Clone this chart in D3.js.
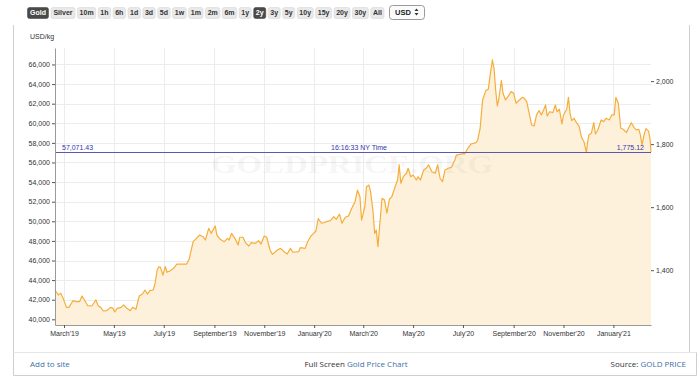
<!DOCTYPE html>
<html>
<head>
<meta charset="utf-8">
<script src="https://cdn.jsdelivr.net/npm/d3@7"></script>
<style>
body { margin: 0; background: #fff; }
svg { display: block; font-family: "Liberation Sans", Arial, sans-serif; }
</style>
</head>
<body>
<div id="chart-area"></div>
<script>
// gold price, 2 years, USD per kg (right axis shows USD per oz)
const KG_PER_OZ = 32.1507;

const dates = [
  "2019-02-18","2019-02-22","2019-02-25","2019-02-28","2019-03-04","2019-03-07","2019-03-12","2019-03-16",
  "2019-03-20","2019-03-23","2019-03-26","2019-03-30","2019-04-04","2019-04-09","2019-04-12","2019-04-15",
  "2019-04-18","2019-04-22","2019-04-27","2019-04-30","2019-05-02","2019-05-05","2019-05-10","2019-05-13",
  "2019-05-17","2019-05-21","2019-05-24","2019-05-28","2019-06-01","2019-06-05","2019-06-08","2019-06-11",
  "2019-06-14","2019-06-18","2019-06-20","2019-06-23","2019-06-25","2019-06-27","2019-06-30","2019-07-03",
  "2019-07-05","2019-07-09","2019-07-13","2019-07-17","2019-07-23","2019-07-29","2019-08-01","2019-08-06",
  "2019-08-10","2019-08-14","2019-08-18","2019-08-21","2019-08-25","2019-08-28","2019-09-02","2019-09-04",
  "2019-09-08","2019-09-13","2019-09-17","2019-09-19","2019-09-22","2019-09-26","2019-09-30","2019-10-02",
  "2019-10-06","2019-10-09","2019-10-13","2019-10-16","2019-10-21","2019-10-25","2019-10-28","2019-11-01",
  "2019-11-04","2019-11-08","2019-11-11","2019-11-17","2019-11-21","2019-11-26","2019-11-29","2019-12-03",
  "2019-12-06","2019-12-13","2019-12-15","2019-12-21","2019-12-24","2019-12-28","2019-12-31","2020-01-03",
  "2020-01-06","2020-01-10","2020-01-14","2020-01-16","2020-01-21","2020-01-25","2020-01-28","2020-02-01",
  "2020-02-04","2020-02-08","2020-02-12","2020-02-16","2020-02-20","2020-02-23","2020-02-26","2020-02-28",
  "2020-03-03","2020-03-05","2020-03-08","2020-03-10","2020-03-13","2020-03-15","2020-03-17","2020-03-19",
  "2020-03-21","2020-03-24","2020-03-27","2020-03-30","2020-04-02","2020-04-05","2020-04-09","2020-04-12",
  "2020-04-14","2020-04-16","2020-04-19","2020-04-23","2020-04-25","2020-04-28","2020-05-01","2020-05-05",
  "2020-05-07","2020-05-10","2020-05-14","2020-05-17","2020-05-20","2020-05-24","2020-05-28","2020-05-31",
  "2020-06-03","2020-06-06","2020-06-09","2020-06-13","2020-06-17","2020-06-21","2020-06-23","2020-06-27",
  "2020-07-01","2020-07-03","2020-07-07","2020-07-11","2020-07-17","2020-07-19","2020-07-22","2020-07-25",
  "2020-07-29","2020-08-01","2020-08-03","2020-08-06","2020-08-08","2020-08-10","2020-08-12","2020-08-14",
  "2020-08-17","2020-08-19","2020-08-22","2020-08-25","2020-08-29","2020-09-01","2020-09-04","2020-09-08",
  "2020-09-12","2020-09-14","2020-09-17","2020-09-20","2020-09-23","2020-09-26","2020-09-29","2020-10-02",
  "2020-10-05","2020-10-08","2020-10-10","2020-10-12","2020-10-15","2020-10-19","2020-10-22","2020-10-24",
  "2020-10-27","2020-10-30","2020-11-01","2020-11-05","2020-11-07","2020-11-09","2020-11-11","2020-11-14",
  "2020-11-16","2020-11-20","2020-11-23","2020-11-26","2020-11-29","2020-11-30","2020-12-02","2020-12-05",
  "2020-12-08","2020-12-10","2020-12-13","2020-12-17","2020-12-20","2020-12-23","2020-12-27","2020-12-30",
  "2021-01-02","2021-01-04","2021-01-07","2021-01-10","2021-01-13","2021-01-17","2021-01-20","2021-01-23",
  "2021-01-26","2021-01-29","2021-02-01","2021-02-03","2021-02-05","2021-02-08","2021-02-10","2021-02-13",
  "2021-02-15","2021-02-16"
];

const pricesKg = [
  42990,42480,42650,42140,41220,41220,41900,41800,
  41800,42380,41970,41390,41360,41970,41360,41220,
  40850,40880,41220,41120,40750,41120,41220,41460,
  41120,40880,41220,41020,42380,42580,42990,42580,
  42920,42990,43500,45030,45370,45300,44520,45370,
  44800,44960,45200,45640,45640,45640,46120,47920,
  48260,48600,48430,48090,49280,48770,49520,48600,
  48160,47920,48260,48090,48770,48260,47580,48370,
  48370,47820,47480,47820,47750,48020,47680,48500,
  48370,47070,46630,47070,47240,46840,46660,47240,
  46840,46900,47310,47240,47920,48500,48740,48980,
  50270,49800,49880,49960,50060,50470,50200,50740,
  49800,50410,50540,51330,52000,53190,52510,50130,
  51490,53530,53700,53020,50980,48770,49110,47410,
  49450,52350,52170,50820,52250,52510,53530,54210,
  55750,53880,54550,54900,55410,54550,54720,54210,
  54550,54210,55240,55410,55750,55060,54900,55750,
  54390,54040,55240,55410,55510,56250,56760,56820,
  56900,56870,57450,57890,58020,58300,59490,62380,
  63330,63470,64760,66460,65610,63400,61770,62550,
  64350,63060,62380,62720,63230,63060,62040,62380,
  62650,62550,62200,61020,59830,59720,60850,61290,
  60850,61430,61870,60750,61180,61080,61870,61180,
  61430,59930,60850,61430,62650,61020,60270,60510,
  60160,59720,58570,58120,57000,57790,58810,58980,
  60060,58910,59320,60340,60160,60510,60340,60850,
  60850,62650,62040,59490,59390,59050,59590,60060,
  59590,59320,59390,58810,57790,59000,59460,59200,
  58300,57071.43
];

const leftTicks = [40000,42000,44000,46000,48000,50000,52000,54000,56000,58000,60000,62000,64000,66000];
const rightTicks = [1400,1600,1800,2000];
const monthTicks = ["2019-03-01","2019-05-01","2019-07-01","2019-09-01","2019-11-01","2020-01-01",
                    "2020-03-01","2020-05-01","2020-07-01","2020-09-01","2020-11-01","2021-01-01"];
const monthLabels = ["March'19","May'19","July'19","September'19","November'19","January'20",
                     "March'20","May'20","July'20","September'20","November'20","January'21"];
const metalButtons = ["Gold","Silver"];
const rangeButtons = ["10m","1h","6h","1d","3d","5d","1w","1m","2m","6m","1y","2y","3y","5y","10y","15y","20y","30y","All"];
const lastKg = 57071.43, lastOz = 1775.12, nyTime = "16:16:33 NY Time";

let margin = {left: 55, right: 49, top: 48, bottom: 53};
let width = 700 - margin.left - margin.right;
let height = 378 - margin.top - margin.bottom;

let parse = d3.timeParse("%Y-%m-%d");
let data = dates.map((d, i) => ({date: parse(d), v: pricesKg[i]}));

let svg = d3.select("#chart-area")
    .append("svg")
    .attr("width", 700)
    .attr("height", 378);

// ---- frame
let frame = svg.append("g").attr("stroke", "#cfcfcf").attr("fill", "none");
frame.append("line").attr("x1", 13.5).attr("x2", 13.5).attr("y1", 25).attr("y2", 375.5);
frame.append("line").attr("x1", 689.5).attr("x2", 689.5).attr("y1", 25).attr("y2", 352.5);
frame.append("line").attr("x1", 13.5).attr("x2", 696.5).attr("y1", 352.5).attr("y2", 352.5).attr("stroke", "#e6e6e6");
frame.append("line").attr("x1", 696.5).attr("x2", 696.5).attr("y1", 352.5).attr("y2", 375.5);
frame.append("line").attr("x1", 13.5).attr("x2", 696.5).attr("y1", 375.5).attr("y2", 375.5);

// ---- toolbar
let bar = svg.append("g").attr("font-size", "7px").attr("font-weight", "bold");
function button(label, x, pad, selected) {
    let t = bar.append("text").attr("y", 15.3).text(label)
        .attr("fill", selected ? "#fff" : "#333");
    let w = t.node().getComputedTextLength() + pad;
    bar.insert("rect", "text").attr("x", x).attr("y", 7.5).attr("width", w).attr("height", 11)
        .attr("rx", 2).attr("fill", selected ? "#4a4a4a" : "#e9e9e9")
        .attr("stroke", selected ? "#4a4a4a" : "#d6d6d6").attr("stroke-width", 0.6);
    t.attr("x", x + w / 2).attr("text-anchor", "middle");
    return w;
}
// measure range labels so the row runs from 77.5 to 384
let probe = bar.append("text");
let textSum = d3.sum(rangeButtons, b => probe.text(b).node().getComputedTextLength());
probe.remove();
let gap = 2.5;
let pad = (306.5 - gap * (rangeButtons.length - 1) - textSum) / rangeButtons.length;

let bx = 27.5;
metalButtons.forEach(b => { bx += button(b, bx, 5, b === "Gold") + 2.5; });
bx = 77.5;
rangeButtons.forEach(b => { bx += button(b, bx, pad, b === "2y") + gap; });

let sel = svg.append("g");
sel.append("rect").attr("x", 389.5).attr("y", 5.5).attr("width", 35).attr("height", 14).attr("rx", 3)
    .attr("fill", "#fbfbfb").attr("stroke", "#9a9a9a");
sel.append("text").attr("x", 395).attr("y", 15.3).attr("font-size", "7.5px").attr("font-weight", "bold")
    .attr("fill", "#222").text("USD");
sel.append("path").attr("d", "M414.5,11 L416.5,8.5 L418.5,11 Z M414.5,13 L416.5,15.5 L418.5,13 Z").attr("fill", "#333");

// ---- chart
let g = svg.append("g")
    .attr("transform", "translate(" + margin.left + "," + margin.top + ")");

let x = d3.scaleTime()
    .domain([parse("2019-02-18"), parse("2021-02-16")])
    .range([0, width]);

let y = d3.scaleLinear()
    .domain([39420, 67680])
    .range([height, 0]);

let yOz = d3.scaleLinear()
    .domain(y.domain().map(v => v / KG_PER_OZ))
    .range([height, 0]);

let monthDates = monthTicks.map(parse);

//grid
g.append("g").selectAll("line").data(leftTicks).enter().append("line")
    .attr("x1", 0).attr("x2", width)
    .attr("y1", d => Math.round(y(d)) + 0.5).attr("y2", d => Math.round(y(d)) + 0.5)
    .attr("stroke", "#ececec");
g.append("g").selectAll("line").data(monthDates).enter().append("line")
    .attr("y1", 0).attr("y2", height)
    .attr("x1", d => Math.round(x(d)) + 0.5).attr("x2", d => Math.round(x(d)) + 0.5)
    .attr("stroke", "#ececec");

// area + line
let area = d3.area()
    .x(d => x(d.date))
    .y0(height)
    .y1(d => y(d.v));
g.append("path").datum(data).attr("d", area).attr("fill", "#fdf1dc");

g.append("text")
    .attr("x", width / 2 - 1).attr("y", 125)
    .attr("text-anchor", "middle")
    .attr("font-family", "'Liberation Serif', serif").attr("font-weight", "bold")
    .attr("font-size", "26px").attr("textLength", 282).attr("lengthAdjust", "spacingAndGlyphs")
    .attr("fill", "#777").attr("fill-opacity", 0.08)
    .text("GOLDPRICE.ORG");

let line = d3.line()
    .x(d => x(d.date))
    .y(d => y(d.v));
g.append("path").datum(data).attr("d", line)
    .attr("fill", "none").attr("stroke", "#f5ae3a").attr("stroke-width", 1.2)
    .attr("stroke-linejoin", "round");

// current price line
let py = Math.round(y(lastKg)) + 0.5;
g.append("line").attr("x1", 0).attr("x2", width).attr("y1", py).attr("y2", py)
    .attr("stroke", "#5959b0").attr("stroke-width", 1);
let lbl = g.append("g").attr("font-size", "7px").attr("fill", "#3535a8");
lbl.append("text").attr("x", 7).attr("y", py - 2.5).text(d3.format(",.2f")(lastKg));
lbl.append("text").attr("x", 304).attr("y", py - 2.5).attr("text-anchor", "middle").text(nyTime);
lbl.append("text").attr("x", width - 7).attr("y", py - 2.5).attr("text-anchor", "end").text(d3.format(",.2f")(lastOz));

//axes
let yAxis = d3.axisLeft(y).tickValues(leftTicks).tickSize(3).tickSizeOuter(0).tickPadding(2)
    .tickFormat(d3.format(","));
let yAxisG = g.append("g").attr("class", "y axis").call(yAxis);

let xAxis = d3.axisBottom(x).tickValues(monthDates).tickSize(3).tickSizeOuter(0).tickPadding(3)
    .tickFormat((d, i) => monthLabels[i]);
let xAxisG = g.append("g").attr("class", "x axis")
    .attr("transform", "translate(0," + height + ")").call(xAxis);

let yAxisR = d3.axisRight(yOz).tickValues(rightTicks).tickSize(3).tickPadding(2)
    .tickFormat(d3.format(","));
let yAxisRG = g.append("g").attr("class", "y axis right")
    .attr("transform", "translate(" + width + ",0)").call(yAxisR);
yAxisRG.select(".domain").remove();

[yAxisG, xAxisG, yAxisRG].forEach(a => {
    a.selectAll("text").attr("font-size", "7px").attr("fill", "#333")
        .attr("font-family", "'Liberation Sans', Arial, sans-serif");
    a.selectAll(".tick line").attr("stroke", "#555");
    a.select(".domain").attr("stroke", "#9a9a9a");
});

// y label
svg.append("text").attr("x", 30).attr("y", 39).attr("font-size", "7px").attr("fill", "#333").text("USD/kg");

// ---- footer
let foot = svg.append("g").attr("font-family", "'Open Sans', sans-serif").attr("font-size", "8px");
foot.append("text").attr("x", 30).attr("y", 367).attr("fill", "#3a72a8").text("Add to site");
let mid = foot.append("text").attr("x", 356).attr("y", 367).attr("text-anchor", "middle").attr("fill", "#333");
mid.append("tspan").text("Full Screen ");
mid.append("tspan").attr("fill", "#3a72a8").text("Gold Price Chart");
let src = foot.append("text").attr("x", 686).attr("y", 367).attr("text-anchor", "end").attr("fill", "#333");
src.append("tspan").text("Source: ");
src.append("tspan").attr("fill", "#3a72a8").text("GOLD PRICE");
</script>
</body>
</html>
